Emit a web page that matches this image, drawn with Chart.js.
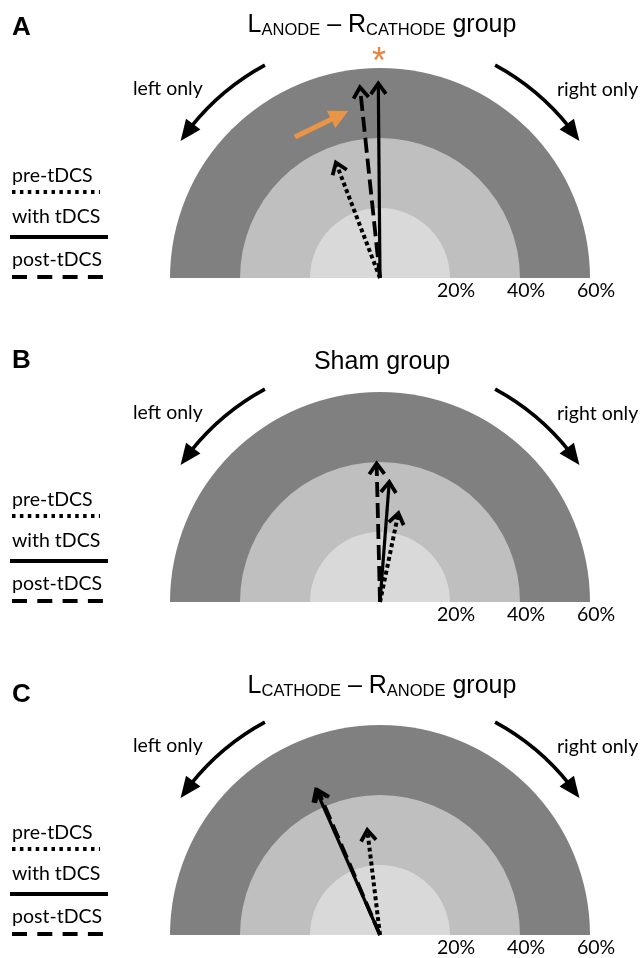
<!DOCTYPE html>
<html>
<head>
<meta charset="utf-8">
<script src="https://cdn.jsdelivr.net/npm/chart.js@4.4.1/dist/chart.umd.min.js"></script>
<style>
  body { margin: 0; background: #fff; }
  #wrap { position: relative; width: 644px; height: 958px; overflow: hidden; }
  #wrap canvas { position: absolute; left: 0; }
</style>
</head>
<body>
<div id="wrap">
  <canvas id="panelA" width="644" height="298" style="top:3px"></canvas>
  <canvas id="panelB" width="644" height="298" style="top:327px"></canvas>
  <canvas id="panelC" width="644" height="298" style="top:660px"></canvas>
</div>
<script>
// panel data: magnitude (%) and direction (deg, 0 = straight up, negative = towards left)
const panelLetters = ['A', 'B', 'C'];
const preMag  = [35.3, 25.9, 30.2];
const preAng  = [-20.9, 11.7, -6.9];
const withMag = [55.6, 34.4, 45.3];
const withAng = [-0.5, 4.4, -23.8];
const postMag = [54.8, 39.6, 45.0];
const postAng = [-6.0, -1.4, -23.2];

const ringLevels = [20, 40, 60];
const ringLabels = ['20%', '40%', '60%'];
const ringColors = ['#d9d9d9', '#bfbfbf', '#808080'];

// title pieces: [text, isSubscript]
const titles = [
  [['L', 0], ['ANODE', 1], [' \u2013 R', 0], ['CATHODE', 1], [' group', 0]],
  [['Sham group', 0]],
  [['L', 0], ['CATHODE', 1], [' \u2013 R', 0], ['ANODE', 1], [' group', 0]]
];
const legendLabels = ['pre-tDCS', 'with tDCS', 'post-tDCS'];

// layout
const W = 644, H = 298, CX = 380, BASE = 275, PX = 3.5;
const titleDy = [-246, -233, -242];
const letterDy = [-243, -234, -233];
const LABEL_FONT = '19.5px Lato';

const styles = {
  pre:  { width: 4,   dash: [4, 3] },
  with: { width: 3.2, dash: [] },
  post: { width: 3.8, dash: [15, 6] }
};

function polar(mag, deg) {
  const a = deg * Math.PI / 180;
  return { x: mag * Math.sin(a), y: mag * Math.cos(a) };
}

function arrowSet(label, mag, ang, st) {
  return {
    label: label,
    data: [{ x: 0, y: 0 }, polar(mag, ang)],
    showLine: true,
    borderColor: '#000',
    backgroundColor: '#000',
    borderWidth: st.width,
    borderDash: st.dash,
    borderCapStyle: 'butt',
    pointRadius: 0,
    fill: false
  };
}

const ringsPlugin = {
  id: 'rings',
  beforeDatasetsDraw(chart) {
    const { ctx, scales: { x, y } } = chart;
    const cx = x.getPixelForValue(0), cy = y.getPixelForValue(0);
    ctx.save();
    for (let i = ringLevels.length - 1; i >= 0; i--) {
      const r = x.getPixelForValue(ringLevels[i]) - cx;
      ctx.beginPath();
      ctx.moveTo(cx - r, cy);
      ctx.arc(cx, cy, r, Math.PI, 2 * Math.PI);
      ctx.closePath();
      ctx.fillStyle = ringColors[i];
      ctx.fill();
    }
    ctx.restore();
  }
};

function chevron(ctx, x0, y0, x1, y1, len, half, lw) {
  const d = Math.hypot(x1 - x0, y1 - y0);
  const ux = (x1 - x0) / d, uy = (y1 - y0) / d;
  const c = Math.cos(half), s = Math.sin(half);
  ctx.beginPath();
  ctx.moveTo(x1 - len * (ux * c - uy * s), y1 - len * (uy * c + ux * s));
  ctx.lineTo(x1, y1);
  ctx.lineTo(x1 - len * (ux * c + uy * s), y1 - len * (uy * c - ux * s));
  ctx.lineWidth = lw;
  ctx.setLineDash([]);
  ctx.lineJoin = 'miter';
  ctx.strokeStyle = '#000';
  ctx.stroke();
}

function filledHead(ctx, bx, by, tx, ty, half, color) {
  const d = Math.hypot(tx - bx, ty - by);
  const px = -(ty - by) / d, py = (tx - bx) / d;
  ctx.beginPath();
  ctx.moveTo(tx, ty);
  ctx.lineTo(bx + px * half, by + py * half);
  ctx.lineTo(bx - px * half, by - py * half);
  ctx.closePath();
  ctx.fillStyle = color;
  ctx.fill();
}

const headsPlugin = {
  id: 'heads',
  afterDatasetsDraw(chart) {
    const ctx = chart.ctx;
    ctx.save();
    chart.data.datasets.forEach((ds, i) => {
      const pts = chart.getDatasetMeta(i).data;
      chevron(ctx, pts[0].x, pts[0].y, pts[1].x, pts[1].y, 13, 0.62, 3.8);
    });
    ctx.restore();
  }
};

function curvedArrow(ctx, cx, cy, side) {
  const r = 242, deg = Math.PI / 180;
  const a0 = 28.4 * deg, a1 = 51.5 * deg, aTip = 55.5 * deg, aBase = 50.5 * deg;
  const pt = (a) => [cx + side * r * Math.sin(a), cy - r * Math.cos(a)];
  ctx.beginPath();
  if (side < 0) ctx.arc(cx, cy, r, -Math.PI / 2 - a0, -Math.PI / 2 - a1, true);
  else ctx.arc(cx, cy, r, -Math.PI / 2 + a0, -Math.PI / 2 + a1, false);
  ctx.lineWidth = 3.5;
  ctx.setLineDash([]);
  ctx.strokeStyle = '#000';
  ctx.stroke();
  const b = pt(aBase), t = pt(aTip);
  filledHead(ctx, b[0], b[1], t[0], t[1], 9, '#000');
}

function richTitle(ctx, parts, cx, baseline) {
  const mainF = '25px "Liberation Sans"', subF = '16.5px "Liberation Sans"';
  let total = 0;
  parts.forEach(p => { ctx.font = p[1] ? subF : mainF; total += ctx.measureText(p[0]).width; });
  let x = cx - total / 2;
  ctx.textAlign = 'left';
  ctx.textBaseline = 'alphabetic';
  ctx.fillStyle = '#000';
  parts.forEach(p => {
    ctx.font = p[1] ? subF : mainF;
    ctx.fillText(p[0], x, baseline + (p[1] ? 3 : 0));
    x += ctx.measureText(p[0]).width;
  });
}

function makeDecor(idx) {
  return {
    id: 'decor' + idx,
    afterDraw(chart) {
      const { ctx, scales: { x, y } } = chart;
      const cx = x.getPixelForValue(0), cy = y.getPixelForValue(0);
      ctx.save();
      ctx.fillStyle = '#000';

      // panel letter
      ctx.font = 'bold 26px "Liberation Sans"';
      ctx.textAlign = 'left';
      ctx.textBaseline = 'alphabetic';
      ctx.fillText(panelLetters[idx], 12, cy + letterDy[idx]);

      richTitle(ctx, titles[idx], cx + 2, cy + titleDy[idx]);

      // ring labels
      ctx.font = LABEL_FONT;
      ctx.textAlign = 'center';
      ringLevels.forEach((v, i) => {
        ctx.fillText(ringLabels[i], x.getPixelForValue(v) + 6, cy + 18.5);
      });

      // side arrows + captions
      curvedArrow(ctx, cx, cy, -1);
      curvedArrow(ctx, cx, cy, 1);
      ctx.fillStyle = '#000';
      ctx.textAlign = 'left';
      ctx.fillText('left only', cx - 247, cy - 183);
      ctx.fillText('right only', cx + 177, cy - 182);

      // legend
      const ds = chart.data.datasets;
      const order = [2, 0, 1]; // pre, with, post
      const textDy = [-96, -55, -12], lineDy = [-86, -41, -1];
      const lineX = [[12, 100], [10, 108], [12, 103]];
      const legDash = [[3.5, 4.4], [], [15, 10.3]];
      order.forEach((di, k) => {
        ctx.fillStyle = '#000';
        ctx.fillText(legendLabels[k], 12, cy + textDy[k]);
        ctx.beginPath();
        ctx.moveTo(lineX[k][0], cy + lineDy[k]);
        ctx.lineTo(lineX[k][1], cy + lineDy[k]);
        ctx.lineWidth = 3.8;
        ctx.setLineDash(legDash[k]);
        ctx.lineCap = 'butt';
        ctx.strokeStyle = ds[di].borderColor;
        ctx.stroke();
      });
      ctx.setLineDash([]);

      if (idx === 0) {
        // significance mark and pointer
        ctx.fillStyle = '#e8843c';
        ctx.font = '36px "Liberation Sans"';
        ctx.textAlign = 'center';
        ctx.fillText('*', x.getPixelForValue(-0.3), y.getPixelForValue(58.6));
        const sx = x.getPixelForValue(-24.3), sy = y.getPixelForValue(40.3);
        const tx = x.getPixelForValue(-9.1), ty = y.getPixelForValue(47.7);
        const bx = sx + (tx - sx) * 0.68, by = sy + (ty - sy) * 0.68;
        ctx.beginPath();
        ctx.moveTo(sx, sy);
        ctx.lineTo(bx + (tx - bx) * 0.2, by + (ty - by) * 0.2);
        ctx.lineWidth = 5;
        ctx.strokeStyle = '#ea9545';
        ctx.stroke();
        filledHead(ctx, bx, by, tx, ty, 9.5, '#ea9545');
      }
      ctx.restore();
    }
  };
}

['panelA', 'panelB', 'panelC'].forEach((id, i) => {
  new Chart(document.getElementById(id), {
    type: 'scatter',
    data: {
      datasets: [
        arrowSet('with tDCS', withMag[i], withAng[i], styles.with),
        arrowSet('post-tDCS', postMag[i], postAng[i], styles.post),
        arrowSet('pre-tDCS', preMag[i], preAng[i], styles.pre)
      ]
    },
    options: {
      responsive: false,
      animation: false,
      events: [],
      layout: { padding: 0 },
      plugins: { legend: { display: false }, tooltip: { enabled: false } },
      scales: {
        x: { type: 'linear', display: false, min: -CX / PX, max: (W - CX) / PX },
        y: { type: 'linear', display: false, min: -(H - BASE) / PX, max: BASE / PX }
      }
    },
    plugins: [ringsPlugin, headsPlugin, makeDecor(i)]
  });
});
</script>
</body>
</html>
